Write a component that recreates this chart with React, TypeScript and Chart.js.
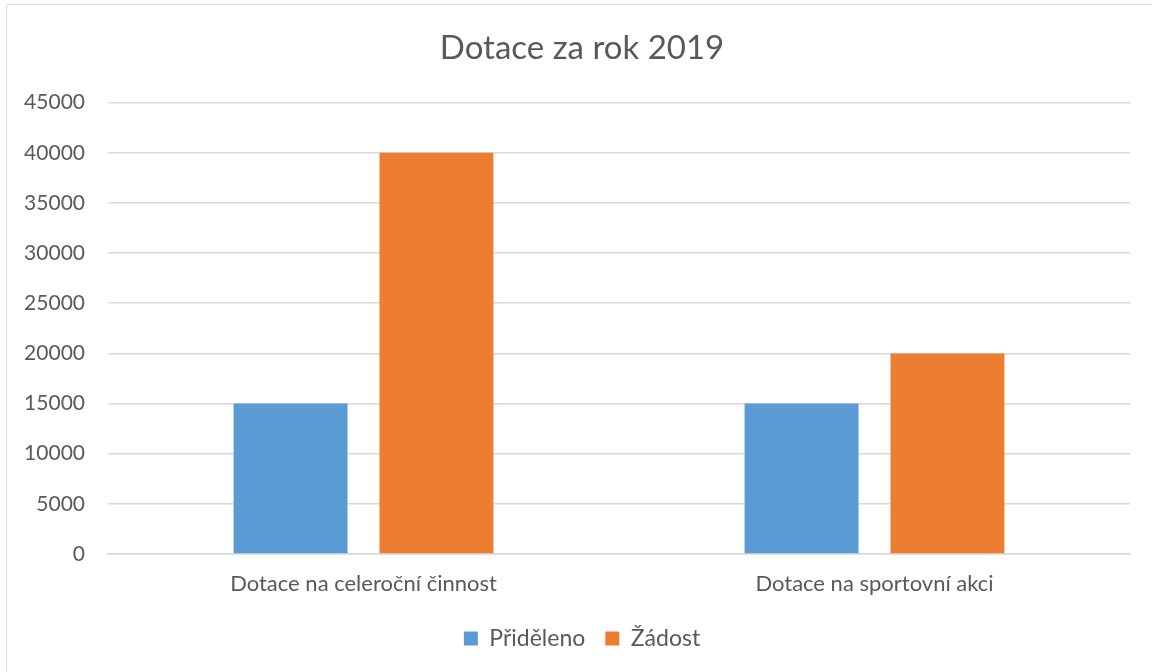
import React, { useEffect, useRef } from "react";
import { Chart, registerables } from "chart.js";

Chart.register(...registerables);

const categories = ["Dotace na celeroční činnost", "Dotace na sportovní akci"];
const seriesNames = ["Přiděleno", "Žádost"];
const prideleno = [15000, 15000];
const zadost = [40000, 20000];
const seriesColors = ["#5B9BD5", "#ED7D31"];
const yMin = 0;
const yMax = 45000;
const yStep = 5000;

const FONT = "Lato, 'Open Sans', sans-serif";
const TEXT = "#595959";

export default function App() {
  const ref = useRef<HTMLCanvasElement | null>(null);

  useEffect(() => {
    document.body.style.margin = "0";
    const canvas = ref.current;
    if (!canvas) return;
    const chart = new Chart(canvas, {
      type: "bar",
      data: {
        labels: categories,
        datasets: [
          {
            label: seriesNames[0],
            data: prideleno,
            backgroundColor: seriesColors[0],
            categoryPercentage: 0.571,
            barPercentage: 0.781,
          },
          {
            label: seriesNames[1],
            data: zadost,
            backgroundColor: seriesColors[1],
            categoryPercentage: 0.571,
            barPercentage: 0.781,
          },
        ],
      },
      options: {
        animation: false,
        responsive: false,
        maintainAspectRatio: false,
        layout: { padding: { top: 0, right: 0, bottom: 12, left: 0 } },
        plugins: {
          title: {
            display: true,
            text: "Dotace za rok 2019",
            color: TEXT,
            font: { family: FONT, size: 33, weight: "normal" },
            padding: { top: 29, bottom: 34 },
          },
          legend: {
            position: "bottom",
            labels: {
              color: TEXT,
              font: { family: FONT, size: 23 },
              boxWidth: 14,
              boxHeight: 14,
              padding: 20,
            },
          },
          tooltip: { enabled: false },
        },
        scales: {
          x: {
            afterFit: (s: any) => {
              s.height = 53;
            },
            grid: { display: false, drawTicks: false },
            border: { display: true, color: "#d9d9d9", width: 1.5 },
            ticks: { color: TEXT, font: { family: FONT, size: 22 }, padding: 17 },
          },
          y: {
            min: yMin,
            max: yMax,
            afterFit: (s: any) => {
              s.width = 108;
            },
            grid: { color: "#d9d9d9", drawTicks: false, lineWidth: 1.5 },
            border: { display: false },
            ticks: {
              stepSize: yStep,
              color: TEXT,
              font: { family: FONT, size: 21 },
              padding: 23,
              callback: (v: any) => String(v),
            },
          },
          spacer: {
            type: "linear",
            position: "right",
            display: true,
            afterFit: (s: any) => {
              s.width = 34;
            },
            grid: { display: false, drawTicks: false },
            border: { display: false },
            ticks: { display: false },
          },
        },
      },
    });
    return () => chart.destroy();
  }, []);

  return (
    <div
      style={{
        position: "fixed",
        left: 0,
        top: 0,
        width: 1152,
        height: 672,
        background: "#fff",
        overflow: "hidden",
      }}
    >
      <div
        style={{
          position: "absolute",
          left: 6,
          top: 4,
          width: 1160,
          height: 680,
          border: "1.5px solid #d9d9d9",
          boxSizing: "border-box",
        }}
      />
      <canvas ref={ref} width={1164} height={672} style={{ position: "absolute", left: 0, top: 0 }} />
    </div>
  );
}
